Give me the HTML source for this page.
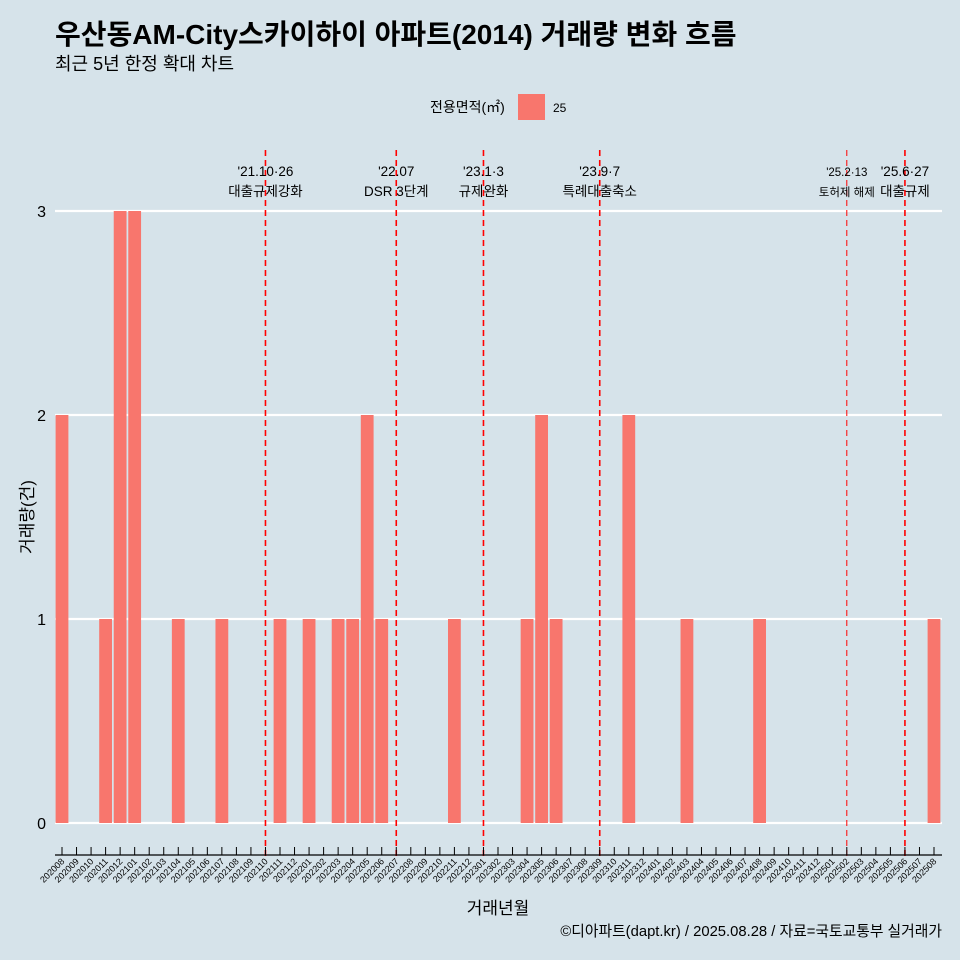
<!DOCTYPE html>
<html><head><meta charset="utf-8"><style>
body{margin:0;background:#d6e3ea;font-family:"Liberation Sans","Noto Sans CJK KR",sans-serif}
svg{display:block}
</style></head><body>
<svg id="c" width="960" height="960" xmlns="http://www.w3.org/2000/svg">
<rect width="960" height="960" fill="#d6e3ea"/>
<text x="55" y="44" font-size="28" font-weight="bold" fill="#000">우산동AM-City스카이하이 아파트(2014) 거래량 변화 흐름</text>
<text x="55" y="70" font-size="18" fill="#000">최근 5년 한정 확대 차트</text>
<g>
<text x="430" y="112" font-size="14">전용면적(㎡)</text>
<rect x="518" y="94" width="27" height="26" fill="#f8766d"/>
<text x="553" y="112" font-size="12">25</text>
</g>
<g id="grid"></g><g id="bars"></g><g id="events"></g><g id="axes"></g>
<text x="0" y="0" transform="translate(33,517) rotate(-90)" text-anchor="middle" font-size="17">거래량(건)</text>
<text x="498" y="914" text-anchor="middle" font-size="17">거래년월</text>
<text x="942" y="936" text-anchor="end" font-size="14.8">©디아파트(dapt.kr) / 2025.08.28 / 자료=국토교통부 실거래가</text>
</svg>
<script>
const categories=[];for(let y=2020,m=8;y<2025||(y==2025&&m<=8);){categories.push(y+String(m).padStart(2,'0'));m++;if(m>12){m=1;y++;}}
const dealMonths=["202008","202011","202012","202101","202104","202107","202111","202201","202203","202204","202205","202206","202211","202304","202305","202306","202311","202403","202408","202508"];
const dealCounts=[2,1,3,3,1,1,1,1,1,1,2,1,1,1,2,1,2,1,1,1];
const yTicks=[0,1,2,3];
const eventMonths=["202110","202207","202301","202309","202502","202506"];
const eventDates=["'21.10·26","'22.07","'23.1·3","'23.9·7","'25.2·13","'25.6·27"];
const eventLabels=["대출규제강화","DSR 3단계","규제완화","특례대출축소","토허제 해제","대출규제"];
const NS="http://www.w3.org/2000/svg";
const x0=62,step=(934-62)/60;
const xs=c=>x0+categories.indexOf(c)*step;
const ys=v=>823-v*204;
function mk(t,a,p){const e=document.createElementNS(NS,t);for(const k in a)e.setAttribute(k,a[k]);p.appendChild(e);return e;}
const grid=document.getElementById('grid'),bars=document.getElementById('bars'),ev=document.getElementById('events'),ax=document.getElementById('axes');
yTicks.forEach(v=>{
 const l=mk('line',{x1:55,x2:942,y1:ys(v),y2:ys(v),stroke:'#fff','stroke-width':2.2},grid);
 
 
 const t=mk('text',{x:46,y:ys(v)+6,'text-anchor':'end','font-size':16},ax);t.textContent=v;
 
 
});
dealMonths.forEach((m,i)=>{
 const w=step*0.88,v=dealCounts[i];
 const r=mk('rect',{x:xs(m)-w/2,y:ys(v),width:w,height:ys(0)-ys(v),fill:'#f8766d'},bars);
 
 
});
eventMonths.forEach((m,i)=>{
 const lx=xs(m);
 const l=mk('line',{x1:lx,x2:lx,y1:150,y2:856,stroke:'#ff0000','stroke-width':i==4?1:1.6,'stroke-dasharray':'6,4'},ev);
 
 
 const fs=i==4?11.5:13.5;
 const t1=mk('text',{x:lx,y:176,'text-anchor':'middle','font-size':fs},ev);t1.textContent=eventDates[i];
 
 
 const t2=mk('text',{x:lx,y:196,'text-anchor':'middle','font-size':fs},ev);t2.textContent=eventLabels[i];
 
 
});
const al=mk('line',{x1:55,x2:942,y1:855,y2:855,stroke:'#000','stroke-width':1.2},ax);


categories.forEach(c=>{
 const x=xs(c);
 mk('line',{x1:x,x2:x,y1:847,y2:855,stroke:'#000','stroke-width':1},ax);
 const t=mk('text',{x:0,y:0,transform:`translate(${x+3},862) rotate(-45)`,'text-anchor':'end','font-size':9},ax);t.textContent=c;
 
 
});
</script>
</body></html>
